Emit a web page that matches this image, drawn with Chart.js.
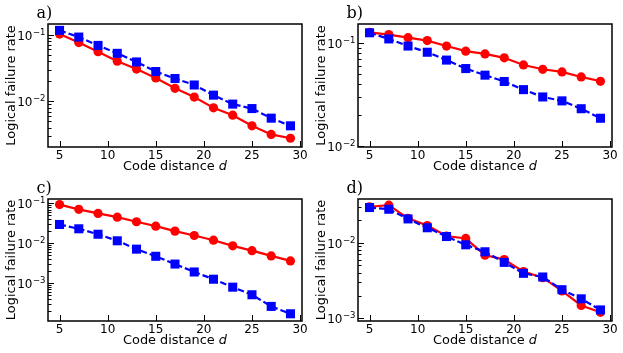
<!DOCTYPE html>
<html>
<head>
<meta charset="utf-8">
<script src="https://cdn.jsdelivr.net/npm/chart.js@4"></script>
<style>
  html, body { margin: 0; padding: 0; background: #fff; }
  body { width: 623px; height: 353px; position: relative; overflow: hidden; }
  .p { position: absolute; }
</style>
</head>
<body>
<div class="p" style="left:0;top:0;width:311px;height:176px"><canvas id="ca" width="311" height="176"></canvas></div>
<div class="p" style="left:311px;top:0;width:312px;height:176px"><canvas id="cb" width="312" height="176"></canvas></div>
<div class="p" style="left:0;top:175px;width:311px;height:178px"><canvas id="cc" width="311" height="178"></canvas></div>
<div class="p" style="left:311px;top:175px;width:312px;height:178px"><canvas id="cd" width="312" height="178"></canvas></div>
<script>
// ---------------- data ----------------
const distances = [5, 7, 9, 11, 13, 15, 17, 19, 21, 23, 25, 27, 29];
const xTicks = [5, 10, 15, 20, 25, 30];

const aRed  = [0.102, 0.076, 0.0556, 0.040, 0.0305, 0.0224, 0.0157, 0.0116, 0.0080, 0.0062, 0.0043, 0.0032, 0.0028];
const aBlue = [0.116, 0.092, 0.069, 0.0525, 0.039, 0.028, 0.022, 0.0176, 0.0124, 0.0091, 0.0078, 0.0056, 0.0043];

const bRed  = [0.126, 0.120, 0.112, 0.105, 0.093, 0.083, 0.078, 0.0715, 0.061, 0.0554, 0.0522, 0.0467, 0.0424];
const bBlue = [0.125, 0.109, 0.093, 0.081, 0.068, 0.0563, 0.0486, 0.0422, 0.0352, 0.0299, 0.0274, 0.0230, 0.0186];

const cRed  = [0.093, 0.0706, 0.056, 0.045, 0.0345, 0.0268, 0.0201, 0.0156, 0.0119, 0.0086, 0.0065, 0.0048, 0.0036];
const cBlue = [0.0295, 0.023, 0.0168, 0.0115, 0.0071, 0.0047, 0.0030, 0.0019, 0.00125, 0.00079, 0.00051, 0.00026, 0.00017];

const dRed  = [0.0300, 0.0315, 0.0211, 0.0169, 0.0123, 0.0114, 0.00685, 0.0060, 0.00415, 0.00345, 0.0023, 0.00148, 0.0012];
const dBlue = [0.0293, 0.0278, 0.0207, 0.0158, 0.0121, 0.0094, 0.0076, 0.0055, 0.00394, 0.00352, 0.00239, 0.00181, 0.00129];

const aYTicks = [0.01, 0.1];
const bYTicks = [0.01, 0.1];
const cYTicks = [0.001, 0.01, 0.1];
const dYTicks = [0.001, 0.01];
const yTickBase = '10';
const yTickExponents = {'0.1': '\u22121', '0.01': '\u22122', '0.001': '\u22123'};

const panelLabels = ['a)', 'b)', 'c)', 'd)'];
const xTitle = 'Code distance ';
const xTitleItalic = 'd';
const yTitle = 'Logical failure rate';

// ---------------- drawing helpers ----------------
const decor = {
  id: 'decor',
  afterDraw(chart, args, opts) {
    const {ctx, chartArea: ca} = chart;
    const x = chart.scales.x, y = chart.scales.y;
    ctx.save();
    ctx.strokeStyle = '#000';
    ctx.lineWidth = 1;
    const seg = (x1, y1, x2, y2) => { ctx.beginPath(); ctx.moveTo(x1, y1); ctx.lineTo(x2, y2); ctx.stroke(); };
    // x major ticks (inward)
    x.ticks.forEach(t => {
      const px = Math.round(x.getPixelForValue(t.value)) + 0.5;
      seg(px, ca.bottom, px, ca.bottom - 6);
    });
    // y major ticks (inward) + mathtext-like labels
    ctx.fillStyle = '#000';
    y.ticks.forEach(t => {
      const py = Math.round(y.getPixelForValue(t.value)) + 0.5;
      seg(ca.left, py, ca.left + 6, py);
      const exp = yTickExponents[String(t.value)];
      ctx.textBaseline = 'alphabetic';
      ctx.textAlign = 'left';
      ctx.font = '8.5px "DejaVu Sans"';
      const we = ctx.measureText(exp).width;
      ctx.font = '12px "DejaVu Sans"';
      const wb = ctx.measureText(yTickBase).width;
      const right = ca.left - 2.5;
      const sx = right - we - wb - 0.5;
      const base = py + 4.3;
      ctx.fillText(yTickBase, sx, base);
      ctx.font = '8.5px "DejaVu Sans"';
      ctx.fillText(exp, sx + wb + 0.5, base - 5);
    });
    // y minor ticks
    const lo = Math.floor(Math.log10(y.min)), hi = Math.ceil(Math.log10(y.max));
    for (let k = lo; k <= hi; k++) {
      for (let m = 2; m <= 9; m++) {
        const v = m * Math.pow(10, k);
        if (v < y.min || v > y.max) continue;
        const py = Math.round(y.getPixelForValue(v)) + 0.5;
        seg(ca.left, py, ca.left + 3.5, py);
      }
    }
    // frame
    ctx.lineWidth = 1.5;
    ctx.strokeRect(ca.left, ca.top, ca.right - ca.left, ca.bottom - ca.top);

    // x title with italic d
    ctx.textBaseline = 'alphabetic';
    ctx.textAlign = 'left';
    const fN = '12.9px "DejaVu Sans"', fI = 'italic 12.9px "DejaVu Sans"';
    ctx.font = fN; const w1 = ctx.measureText(xTitle).width;
    ctx.font = fI; const w2 = ctx.measureText(xTitleItalic).width;
    const cx = (ca.left + ca.right) / 2;
    const sx = cx - (w1 + w2) / 2;
    const by = ca.bottom + 23;
    ctx.font = fN; ctx.fillText(xTitle, sx, by);
    ctx.font = fI; ctx.fillText(xTitleItalic, sx + w1, by);

    // y title
    ctx.save();
    ctx.translate(ca.left - 36, (ca.top + ca.bottom) / 2);
    ctx.rotate(-Math.PI / 2);
    ctx.textAlign = 'center';
    ctx.textBaseline = 'middle';
    ctx.font = fN;
    ctx.fillText(yTitle, 0, 0);
    ctx.restore();

    // panel label
    ctx.font = '16px "DejaVu Serif"';
    ctx.textAlign = 'left';
    ctx.textBaseline = 'alphabetic';
    ctx.fillText(opts.label, ca.left - 11.5, ca.top - 6.5);
    ctx.restore();
  }
};

function makeChart(id, label, red, blue, yTicks, ymin, ymax, pad, yWidth, xHeight) {
  const redPts = distances.map((d, i) => ({x: d, y: red[i]}));
  const bluePts = distances.map((d, i) => ({x: d, y: blue[i]}));
  return new Chart(document.getElementById(id), {
    type: 'line',
    data: {
      datasets: [
        {
          data: bluePts,
          borderColor: '#0000ff', backgroundColor: '#0000ff',
          borderWidth: 2.2, borderDash: [6.5, 3],
          pointStyle: 'rect', pointRadius: 6.4, pointBorderWidth: 0,
          pointBackgroundColor: '#0000ff', tension: 0
        },
        {
          data: redPts,
          borderColor: '#ff0000', backgroundColor: '#ff0000',
          borderWidth: 2.2,
          pointStyle: 'circle', pointRadius: 4.6, pointBorderWidth: 0,
          pointBackgroundColor: '#ff0000', tension: 0
        }
      ]
    },
    options: {
      responsive: false,
      animation: false,
      devicePixelRatio: 1,
      layout: {padding: pad},
      plugins: {legend: {display: false}, tooltip: {enabled: false}, decor: {label: label}},
      scales: {
        x: {
          type: 'linear', min: 3.8, max: 30.2,
          grid: {display: false, drawTicks: false},
          border: {display: false},
          ticks: {color: '#000', font: {family: 'DejaVu Sans', size: 12}, padding: 2, maxRotation: 0, autoSkip: false},
          afterBuildTicks: s => { s.ticks = xTicks.map(v => ({value: v})); },
          afterFit: s => { s.height = xHeight; }
        },
        y: {
          type: 'logarithmic', min: ymin, max: ymax,
          grid: {display: false, drawTicks: false},
          border: {display: false},
          ticks: {display: false},
          afterBuildTicks: s => { s.ticks = yTicks.map(v => ({value: v, major: true})); },
          afterFit: s => { s.width = yWidth; }
        }
      }
    },
    plugins: [decor]
  });
}

makeChart('ca', panelLabels[0], aRed, aBlue, aYTicks, 0.00207, 0.1445, {left: 0, right: 9, top: 24, bottom: 0}, 48, 29);
makeChart('cb', panelLabels[1], bRed, bBlue, bYTicks, 0.0098, 0.152, {left: 0, right: 11, top: 24, bottom: 0}, 47, 29);
makeChart('cc', panelLabels[2], cRed, cBlue, cYTicks, 0.000112, 0.1285, {left: 0, right: 9, top: 24, bottom: 0}, 48, 32);
makeChart('cd', panelLabels[3], dRed, dBlue, dYTicks, 0.00092, 0.038, {left: 0, right: 11, top: 24, bottom: 0}, 47, 32);
</script>
</body>
</html>
